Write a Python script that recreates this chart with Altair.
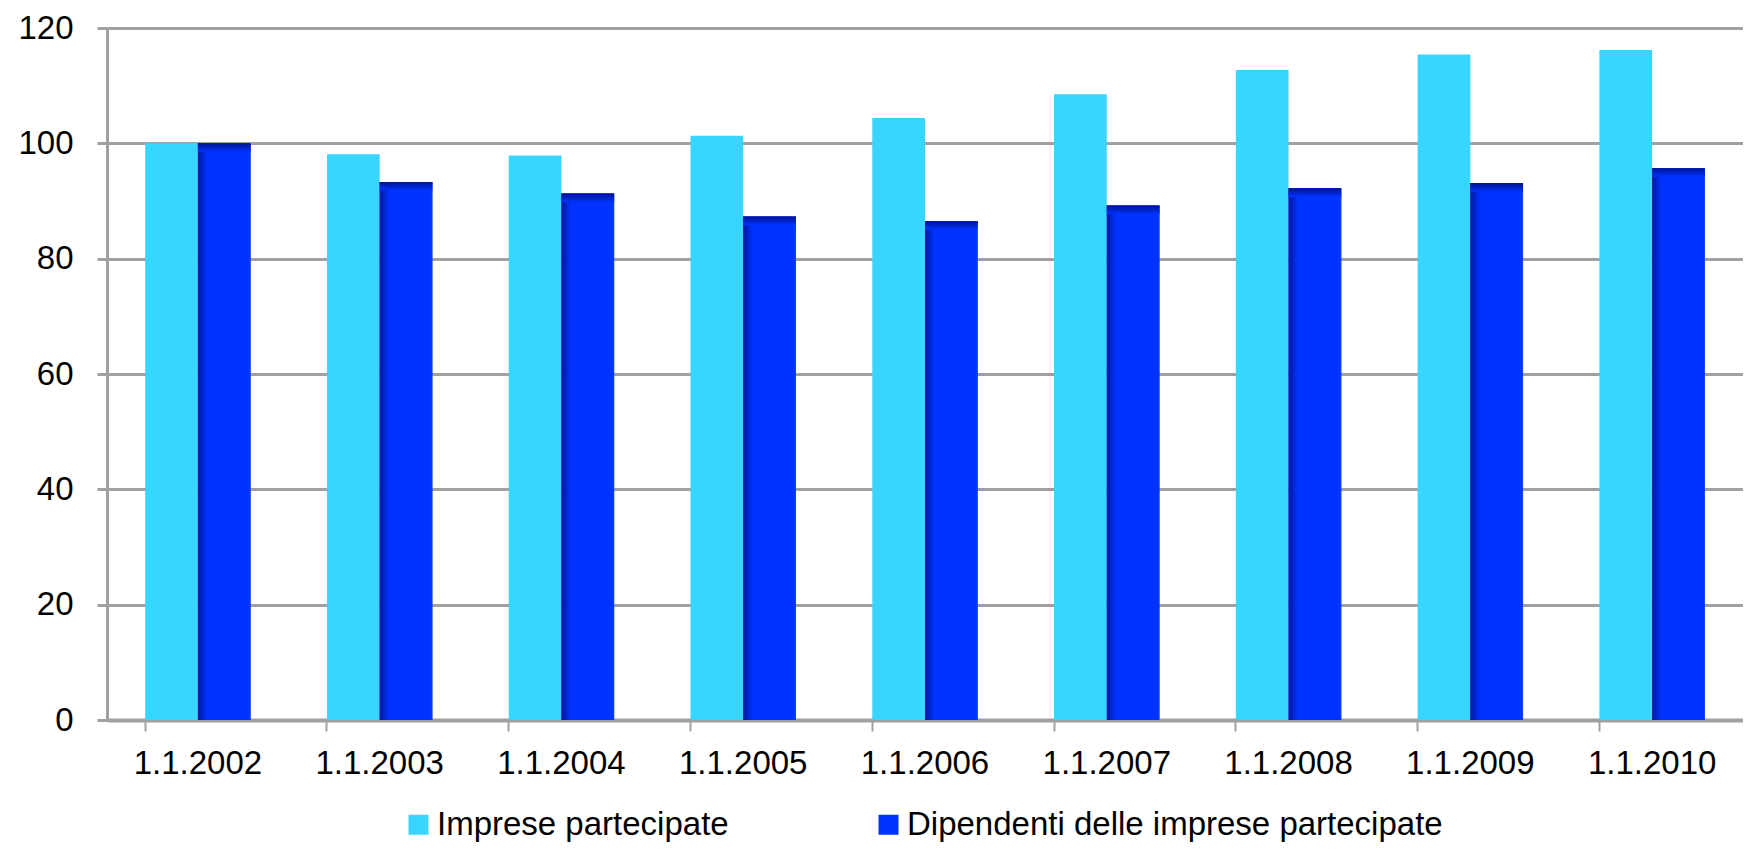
import altair as alt
import pandas as pd

categories = ["1.1.2002", "1.1.2003", "1.1.2004", "1.1.2005", "1.1.2006",
              "1.1.2007", "1.1.2008", "1.1.2009", "1.1.2010"]
series_names = ["Imprese partecipate", "Dipendenti delle imprese partecipate"]
imprese = [100.0, 98.1, 97.9, 101.3, 104.4, 108.5, 112.7, 115.4, 116.2]
dipendenti = [100.0, 93.3, 91.3, 87.3, 86.5, 89.2, 92.2, 93.1, 95.7]
y_ticks = [0, 20, 40, 60, 80, 100, 120]

rows = []
for c, a, b in zip(categories, imprese, dipendenti):
    rows.append({"data": c, "serie": series_names[0], "valore": a})
    rows.append({"data": c, "serie": series_names[1], "valore": b})
df = pd.DataFrame(rows)

FONT = "Liberation Sans"
LIGHT = "#38D5FF"
DARK = "#0033FF"
SHADE = "#00179E"

x_enc = alt.X("data:N", sort=categories, title=None,
              scale=alt.Scale(paddingInner=0.42, paddingOuter=0.21),
              axis=alt.Axis(labelAngle=0, bandPosition=0, labelFontSize=33,
                            labelFont=FONT, labelColor="#000000",
                            labelPadding=16, tickSize=11, tickWidth=2,
                            tickColor="#A0A0A0", domainColor="#A0A0A0",
                            domainWidth=4, grid=False))
y_enc = alt.Y("valore:Q", title=None,
              scale=alt.Scale(domain=[0, 120], nice=False),
              axis=alt.Axis(values=y_ticks, labelFontSize=33, labelFont=FONT,
                            labelColor="#000000", labelPadding=24,
                            tickSize=10, tickWidth=3, tickColor="#A0A0A0",
                            domainColor="#A0A0A0", domainWidth=3,
                            gridColor="#A0A0A0", gridWidth=3))
xo = alt.XOffset("serie:N", sort=series_names)

base = alt.Chart(df).mark_bar().encode(
    x=x_enc, y=y_enc, xOffset=xo,
    color=alt.Color("serie:N", sort=series_names,
                    scale=alt.Scale(domain=series_names, range=[LIGHT, DARK]),
                    legend=alt.Legend(title=None, orient="none", legendX=295,
                                      legendY=780, direction="horizontal",
                                      columns=2, symbolType="square",
                                      symbolSize=400, symbolStrokeWidth=0,
                                      labelFontSize=33, labelFont=FONT,
                                      labelColor="#000000", labelOffset=2,
                                      columnPadding=143, padding=0,
                                      labelLimit=1000)),
)

dark = alt.Chart(df).transform_filter(
    alt.datum.serie == series_names[1]
).mark_bar(
    color=alt.Gradient(gradient="linear", x1=0, x2=1, y1=0, y2=0,
                       stops=[alt.GradientStop(offset=0, color=SHADE),
                              alt.GradientStop(offset=0.18, color=DARK),
                              alt.GradientStop(offset=0.97, color=DARK),
                              alt.GradientStop(offset=1, color="#1A44FF")])
).encode(x=x_enc, y=y_enc, xOffset=xo)

dark_top = alt.Chart(df).transform_filter(
    alt.datum.serie == series_names[1]
).transform_calculate(
    sotto="datum.valore - 1.5"
).mark_bar(
    color=alt.Gradient(gradient="linear", x1=0, x2=0, y1=0, y2=1,
                       stops=[alt.GradientStop(offset=0, color="#001290"),
                              alt.GradientStop(offset=1, color=DARK)])
).encode(x=x_enc, y=y_enc, y2="sotto:Q", xOffset=xo)

chart = alt.layer(base, dark, dark_top).properties(
    width=1636, height=692,
    autosize=alt.AutoSizeParams(type="none"),
    padding={"left": 99, "top": 20, "right": 0, "bottom": 124},
).configure_view(stroke=None)

chart.save("out.html", embed_options={"renderer": "svg", "actions": False})
